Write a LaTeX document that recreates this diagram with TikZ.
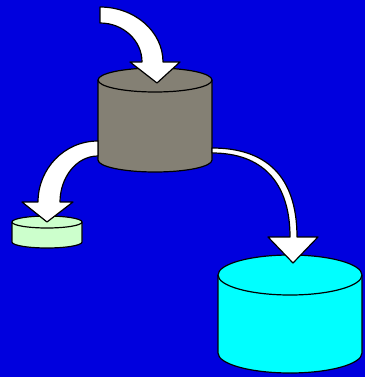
\documentclass[tikz,border=0pt]{standalone}
\begin{document}
\begin{tikzpicture}[x=1pt,y=-1pt,
  outline/.style={draw=black,line width=1.2pt,line join=round},
  flowarrow/.style={outline,fill=white}]
\definecolor{bgblue}{RGB}{0,0,222}
\definecolor{tankgrey}{RGB}{132,128,116}
\definecolor{palegreen}{RGB}{204,255,204}
\definecolor{tankcyan}{RGB}{0,255,255}
% canvas
\fill[bgblue] (0,0) rectangle (365,377);
\useasboundingbox (0,0) rectangle (365,377);
% cylinder: #1 fill, #2 centre x, #3 top y, #4 bottom y, #5 x radius, #6 y radius
\newcommand{\tank}[6]{%
  \path[outline,fill=#1] (#2-#5,#3) -- (#2-#5,#4)
    arc[start angle=180,end angle=0,x radius=#5,y radius=#6]
    -- (#2+#5,#3)
    arc[start angle=0,end angle=-180,x radius=#5,y radius=#6] -- cycle;
  \draw[outline] (#2-#5,#3)
    arc[start angle=180,end angle=0,x radius=#5,y radius=#6];}
\tank{tankgrey}{155}{80}{160}{57}{12}
\tank{palegreen}{47}{222}{242}{35}{6}
\tank{tankcyan}{290}{275}{353}{72}{20}
% inflow arrow
\path[flowarrow] (100,7) .. controls (134.8,7) and (163,31.6) .. (163,62)
  -- (180,62) -- (157,83) -- (130,62) -- (142,62)
  .. controls (142,40.5) and (123.2,23) .. (100,23) -- cycle;
% outflow to the small tank
\path[flowarrow] (98,141) .. controls (64,141) and (38,169) .. (38,202)
  -- (22,202) -- (47,222) -- (73,202) -- (60,202)
  .. controls (60,178) and (76,156) .. (98,156) -- cycle;
% outflow to the large tank
\path[flowarrow] (212,148) .. controls (265,148) and (297,175) .. (297,237)
  -- (318,237) -- (293,263) -- (268,237) -- (290,237)
  .. controls (290,182) and (262,153) .. (212,153) -- cycle;
\end{tikzpicture}
\end{document}
